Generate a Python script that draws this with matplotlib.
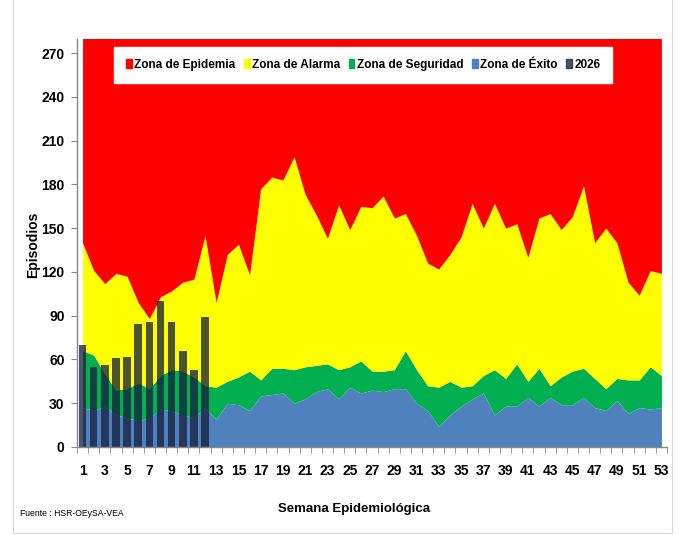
import matplotlib
matplotlib.use("Agg")
import matplotlib.pyplot as plt
from matplotlib.patches import Patch, Rectangle
import numpy as np

# semanas epidemiologicas
semanas = list(range(1, 54))

# limites superiores acumulados de cada zona (canal endemico)
exito = [27, 25, 28, 22, 20, 18, 20, 26, 25, 22, 20, 27, 19, 30, 29, 25, 35, 36, 37, 30,
         33, 38, 40, 33, 41, 37, 39, 38, 40, 40, 30, 25, 14, 22, 28, 33, 37, 22, 28, 28,
         34, 28, 34, 29, 29, 34, 27, 25, 32, 23, 27, 26, 27]
seguridad = [66, 63, 50, 39, 40, 44, 40, 49, 53, 52, 48, 42, 41, 45, 48, 52, 46, 54, 54, 53,
             55, 56, 57, 53, 55, 59, 52, 52, 53, 66, 53, 42, 41, 45, 41, 42, 49, 53, 47, 57,
             45, 54, 42, 48, 52, 54, 47, 40, 47, 46, 46, 55, 49]
alarma = [140, 121, 112, 119, 117, 99, 88, 103, 107, 113, 115, 145, 99, 132, 139, 118, 177, 185, 183, 199,
          173, 159, 143, 166, 149, 165, 164, 172, 157, 160, 145, 126, 122, 132, 144, 167, 150, 167, 150, 153,
          130, 157, 160, 149, 158, 179, 140, 150, 140, 113, 104, 121, 119]

# casos 2026
semanas_2026 = list(range(1, 13))
casos_2026 = [70, 55, 56, 61, 62, 84, 86, 100, 86, 66, 53, 89]

y_ticks = list(range(0, 271, 30))
x_ticks = list(range(1, 54, 2))

plt.rcParams['font.family'] = ['Liberation Sans Narrow', 'Liberation Sans', 'DejaVu Sans']

c_epidemia = '#FF0000'
c_alarma = '#FFFF00'
c_seguridad = '#00B050'
c_exito = '#4F81BD'
c_2026 = '#16203E'

fig = plt.figure(figsize=(6.83, 5.35), dpi=100)
ax = fig.add_axes([77 / 683, (535 - 447) / 535, (667 - 77) / 683, (447 - 38.5) / 535])

y_top = 280
x = np.array(semanas)
ax.fill_between(x, 0, exito, color=c_exito, lw=0, zorder=1)
ax.fill_between(x, exito, seguridad, color=c_seguridad, lw=0, zorder=1)
ax.fill_between(x, seguridad, alarma, color=c_alarma, lw=0, zorder=1)
ax.fill_between(x, alarma, y_top, color=c_epidemia, lw=0, zorder=1)

ax.bar(semanas_2026, casos_2026, width=0.68, color=c_2026, alpha=0.77, lw=0, zorder=2)

ax.set_xlim(0.5, 53.5)
ax.set_ylim(0, y_top)
ax.set_yticks(y_ticks)
ax.set_xticks(x_ticks)
ax.set_xticks(np.arange(0.5, 54, 1), minor=True)
ax.tick_params(axis='x', which='major', length=0, pad=12, labelsize=10)
ax.tick_params(axis='x', which='minor', length=4, color='#868686', direction='out')
ax.tick_params(axis='y', length=4, color='#868686', direction='out', pad=5, labelsize=10)
for lab in ax.get_xticklabels() + ax.get_yticklabels():
    lab.set_fontweight('bold')

for s in ['top', 'right']:
    ax.spines[s].set_visible(False)
for s in ['left', 'bottom']:
    ax.spines[s].set_color('#868686')
    ax.spines[s].set_linewidth(1.0)

fig.text(33 / 683, 1 - 245 / 535, 'Episodios', rotation=90, ha='center', va='center',
         fontsize=10, fontweight='bold')
fig.text(354 / 683, 1 - 509 / 535, 'Semana Epidemiológica', ha='center', va='center',
         fontsize=9.5, fontweight='bold')
fig.text(20 / 683, 1 - 514 / 535, 'Fuente : HSR-OEySA-VEA', ha='left', va='center', fontsize=6.2)

handles = [Patch(color=c_epidemia, label='Zona de Epidemia'),
           Patch(color=c_alarma, label='Zona de Alarma'),
           Patch(color=c_seguridad, label='Zona de Seguridad'),
           Patch(color=c_exito, label='Zona de Éxito'),
           Patch(color=c_2026, alpha=0.77, label='2026')]
leg_x0 = (114 - 77) / 590
leg_w = 498 / 590
leg_top = (447 - 47) / 408.5
leg = ax.legend(handles=handles, loc='upper left', bbox_to_anchor=(leg_x0, leg_top - 0.09, leg_w, 0.09),
                mode='expand', ncol=5, frameon=True, fancybox=False, edgecolor='white', framealpha=1,
                handlelength=0.5, handleheight=0.85, handletextpad=0.2, columnspacing=1.0,
                borderpad=1.0, borderaxespad=0, prop={'weight': 'bold', 'size': 8.5})

# borde del area del grafico
fig.patches.append(Rectangle((13 / 683, 2 / 535), 659 / 683, 540 / 535, transform=fig.transFigure,
                             fill=False, edgecolor='#D9D9D9', lw=0.8))

fig.savefig('out.png', dpi=100)
